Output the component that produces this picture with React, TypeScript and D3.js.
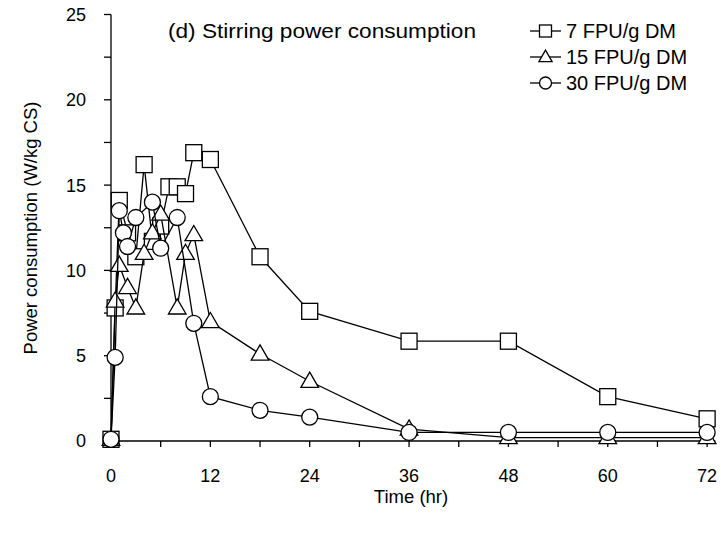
import React from "react";
import * as d3 from "d3";

const sqTime = [0, 0.5, 1, 2, 3, 4, 5, 6, 7, 8, 9, 10, 12, 18, 24, 36, 48, 60, 72];
const sqVal = [0.1, 7.8, 14.1, 12.2, 10.8, 16.2, 11.7, 12.6, 14.9, 14.9, 14.5, 16.9, 16.5, 10.8, 7.6, 5.85, 5.85, 2.6, 1.3];

const triTime = [0, 0.5, 1, 2, 3, 4, 5, 6, 8, 9, 10, 12, 18, 24, 36, 48, 60, 72];
const triVal = [0.1, 8.2, 10.3, 9.0, 7.8, 11.0, 12.2, 13.3, 7.8, 11.0, 12.1, 7.0, 5.1, 3.5, 0.7, 0.2, 0.2, 0.2];

const cirTime = [0, 0.5, 1, 1.5, 2, 3, 5, 6, 8, 10, 12, 18, 24, 36, 48, 60, 72];
const cirVal = [0.1, 4.9, 13.5, 12.2, 11.4, 13.1, 14.0, 11.3, 13.1, 6.9, 2.6, 1.8, 1.4, 0.5, 0.5, 0.5, 0.5];

const xTicks = [0, 12, 24, 36, 48, 60, 72];
const yTicks = [0, 5, 10, 15, 20, 25];
const seriesNames = ["7 FPU/g DM", "15 FPU/g DM", "30 FPU/g DM"];
const title = "(d) Stirring power consumption";
const xLabel = "Time (hr)";
const yLabel = "Power consumption (W/kg CS)";

const FONT = "Arial, 'Liberation Sans', sans-serif";

function Marker({ kind, x, y, s }: { kind: string; x: number; y: number; s: number }) {
  const st = { fill: "#fff", stroke: "#000", strokeWidth: 1.3 };
  if (kind === "square") return <rect x={x - s / 2} y={y - s / 2} width={s} height={s} {...st} />;
  if (kind === "circle") return <circle cx={x} cy={y} r={s / 2} {...st} />;
  const h = s * 0.95;
  const w = s * 1.1;
  return <path d={`M${x},${y - h * 0.6}L${x + w / 2},${y + h * 0.4}L${x - w / 2},${y + h * 0.4}Z`} {...st} />;
}

export default function App() {
  const W = 721, H = 536;
  const x = d3.scaleLinear().domain([0, 73]).range([111, 715.4]);
  const y = d3.scaleLinear().domain([0, 25]).range([441, 14.5]);
  const line = d3.line<[number, number]>().x((d) => x(d[0])).y((d) => y(d[1]));
  const series = [
    { kind: "square", t: sqTime, v: sqVal },
    { kind: "triangle", t: triTime, v: triVal },
    { kind: "circle", t: cirTime, v: cirVal },
  ];
  const minorX = d3.range(0, 73, 6);
  const minorY = d3.range(0, 25.01, 2.5);
  return (
    <svg width={W} height={H} style={{ position: "absolute", left: 0, top: 0, background: "#fff" }} fontFamily={FONT}>
      <rect width={W} height={H} fill="#fff" />
      {/* axes */}
      <line x1={x(0)} x2={x(0)} y1={y(25)} y2={y(0)} stroke="#000" strokeWidth={1.3} />
      <line x1={x(0)} x2={x(73)} y1={y(0)} y2={y(0)} stroke="#000" strokeWidth={1.3} />
      {minorY.map((v) => (
        <line key={"yt" + v} x1={x(0) - 7} x2={x(0)} y1={y(v)} y2={y(v)} stroke="#000" strokeWidth={1.3} />
      ))}
      {minorX.map((v) => (
        <line key={"xt" + v} x1={x(v)} x2={x(v)} y1={y(0)} y2={y(0) + 6} stroke="#000" strokeWidth={1.3} />
      ))}
      {yTicks.map((v) => (
        <text key={"yl" + v} x={86} y={y(v)} dy="0.36em" textAnchor="end" fontSize={18}>
          {v}
        </text>
      ))}
      {xTicks.map((v) => (
        <text key={"xl" + v} x={x(v)} y={476} dy="0.36em" textAnchor="middle" fontSize={18}>
          {v}
        </text>
      ))}
      <text x={411} y={496} dy="0.36em" textAnchor="middle" fontSize={18.5}>
        {xLabel}
      </text>
      <text transform="translate(30,228) rotate(-90)" dy="0.36em" textAnchor="middle" fontSize={18.5}>
        {yLabel}
      </text>
      <text x={168} y={31} dy="0.36em" fontSize={20} textLength={308} lengthAdjust="spacingAndGlyphs">
        {title}
      </text>
      {/* series */}
      {series.map((s, i) => {
        const pts = s.t.map((t, j) => [t, s.v[j]] as [number, number]);
        return (
          <g key={i}>
            <path d={line(pts) || ""} fill="none" stroke="#000" strokeWidth={1.3} />
            {pts.map((p, j) => (
              <Marker key={j} kind={s.kind} x={x(p[0])} y={y(p[1])} s={16} />
            ))}
          </g>
        );
      })}
      {/* legend */}
      {series.map((s, i) => {
        const ly = 31 + i * 26;
        return (
          <g key={"lg" + i}>
            <line x1={530} x2={561} y1={ly} y2={ly} stroke="#000" strokeWidth={1.3} />
            <Marker kind={s.kind} x={545.5} y={ly} s={12} />
            <text x={566} y={ly} dy="0.36em" fontSize={20}>
              {seriesNames[i]}
            </text>
          </g>
        );
      })}
    </svg>
  );
}
